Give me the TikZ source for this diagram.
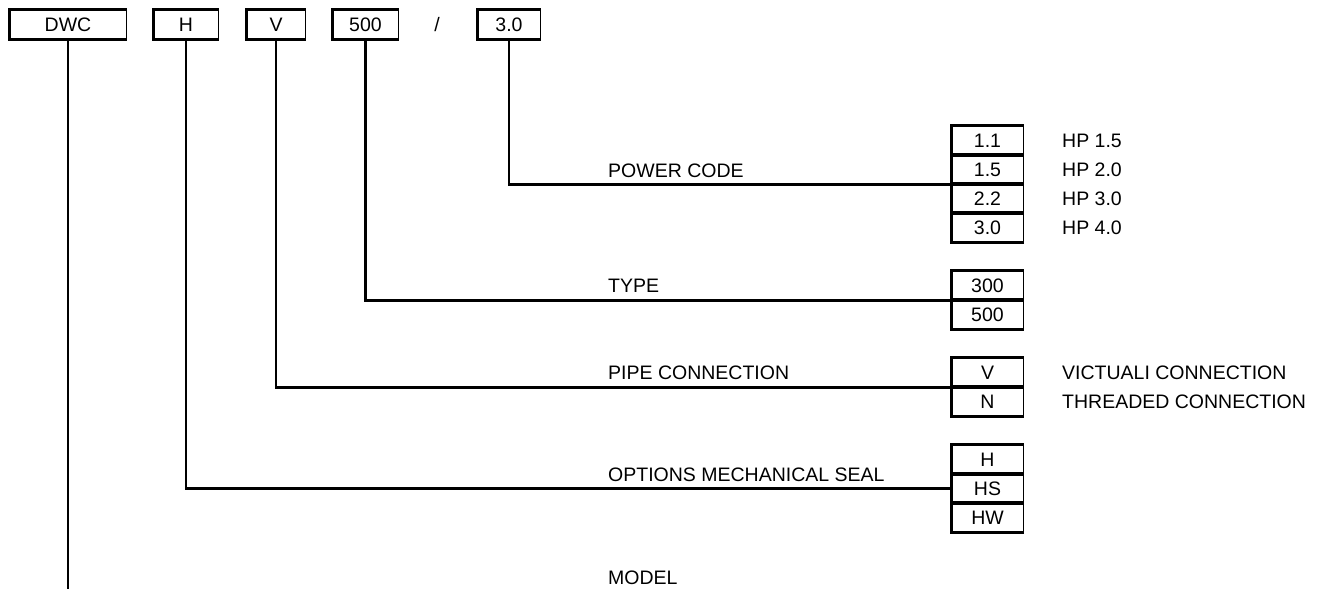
\documentclass[tikz,border=0pt]{standalone}
\usepackage{fontspec}
\setmainfont{Liberation Sans}
\newcommand\thickedges[1]{\draw[edge] (#1.north east) -- (#1.north west) -- (#1.south west) -- (#1.south east);}
\begin{document}
\begin{tikzpicture}[x=1pt,y=-1pt,
  font=\fontsize{19.5}{22}\selectfont,
  cbox/.style={draw, line width=1pt, inner sep=0pt, minimum height=29pt},
  rbox/.style={cbox, minimum width=71pt},
  edge/.style={line width=2.4pt},
  conn/.style={line width=2.4pt},
  lbl/.style={anchor=west, inner sep=0pt}]
\useasboundingbox (0,0) rectangle (1319,589);
% top row
\node[cbox, minimum width=116pt] (dwc) at (68,24.5) {DWC};
\node[cbox, minimum width=64pt] (th) at (186,24.5) {H};
\node[cbox, minimum width=58pt] (tv) at (276,24.5) {V};
\node[cbox, minimum width=65pt] (t500) at (365.5,24.5) {500};
\node[inner sep=0pt] (slash) at (437,24.5) {/};
\node[cbox, minimum width=62pt] (t30) at (509,24.5) {3.0};
\foreach \n in {dwc,th,tv,t500,t30} {\thickedges{\n}}
% power code
\node[rbox] (p11) at (987.5,140.5) {1.1};
\node[rbox] (p15) at (987.5,169.5) {1.5};
\node[rbox] (p22) at (987.5,198.5) {2.2};
\node[rbox] (p30) at (987.5,227.5) {3.0};
% type
\node[rbox] (y300) at (987.5,285.5) {300};
\node[rbox] (y500) at (987.5,314.5) {500};
% pipe
\node[rbox] (cv) at (987.5,372.5) {V};
\node[rbox] (cn) at (987.5,401.5) {N};
% seal
\node[rbox] (sh) at (987.5,459.5) {H};
\node[rbox] (shs) at (987.5,488.5) {HS};
\node[rbox] (shw) at (987.5,517.5) {HW};
\foreach \n in {p11,p15,p22,p30,y300,y500,cv,cn,sh,shs,shw} {\thickedges{\n}}
% right labels
\node[lbl] (hp15) at (1062,140.5) {HP 1.5};
\node[lbl] (hp20) at (1062,169.5) {HP 2.0};
\node[lbl] (hp30) at (1062,198.5) {HP 3.0};
\node[lbl] (hp40) at (1062,227.5) {HP 4.0};
\node[lbl] (vic) at (1062,372.5) {VICTUALI CONNECTION};
\node[lbl] (thr) at (1062,401.5) {THREADED CONNECTION};
% middle labels
\node[lbl] (lpow) at (608,171) {POWER CODE};
\node[lbl] (ltyp) at (608,286) {TYPE};
\node[lbl] (lpip) at (608,373) {PIPE CONNECTION};
\node[lbl] (lopt) at (608,475) {OPTIONS MECHANICAL SEAL};
\node[lbl] (lmod) at (608,578) {MODEL};
% connectors
\coordinate (dwcend) at (68,589);
\draw[conn] (dwc.south) -- (dwcend);
\draw[conn] (th.south) |- (shs.west);
\draw[conn] (tv.south) |- (cv.south west);
\draw[conn] (t500.south) |- (y300.south west);
\draw[conn] (t30.south) |- (p15.south west);
\end{tikzpicture}
\end{document}
